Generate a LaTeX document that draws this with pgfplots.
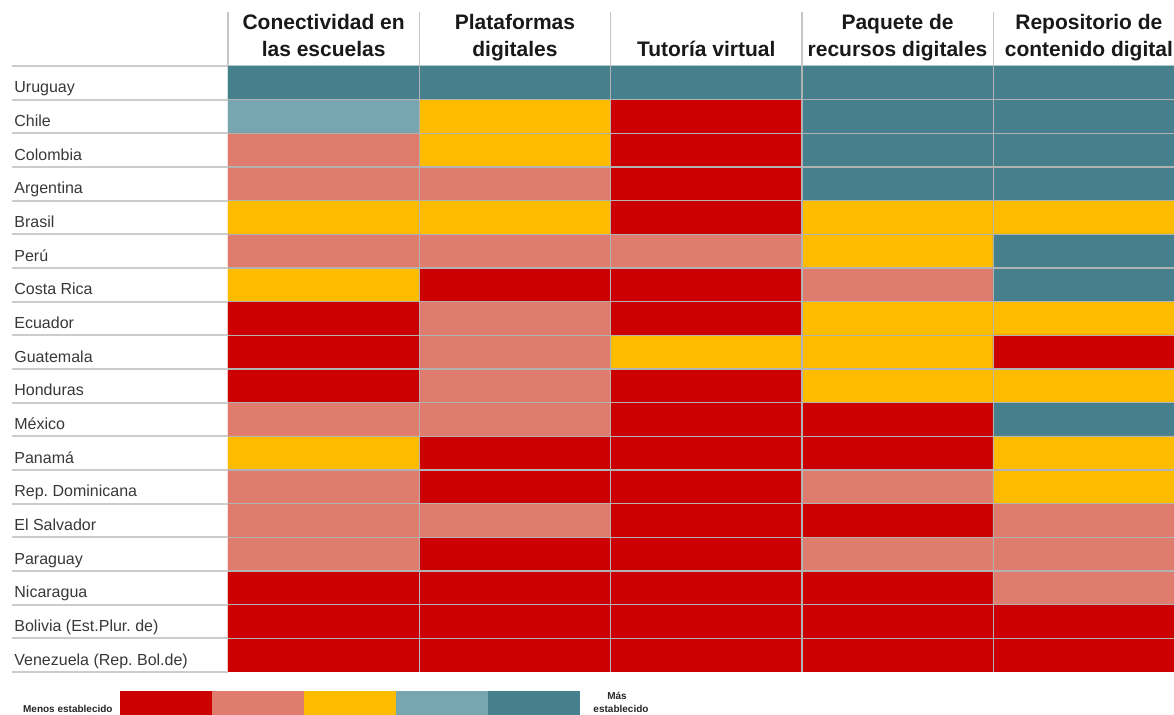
\documentclass[border=0pt]{standalone}
\usepackage{fontspec}
\setmainfont{Liberation Sans}
\usepackage{pgfplots}
\pgfplotsset{compat=1.18}
\usepackage{pgfplotstable}
\frenchspacing

% level 0 = menos establecido ... 4 = mas establecido
\pgfplotstableread{
x y v
0 0 4
1 0 4
2 0 4
3 0 4
4 0 4
0 1 3
1 1 2
2 1 0
3 1 4
4 1 4
0 2 1
1 2 2
2 2 0
3 2 4
4 2 4
0 3 1
1 3 1
2 3 0
3 3 4
4 3 4
0 4 2
1 4 2
2 4 0
3 4 2
4 4 2
0 5 1
1 5 1
2 5 1
3 5 2
4 5 4
0 6 2
1 6 0
2 6 0
3 6 1
4 6 4
0 7 0
1 7 1
2 7 0
3 7 2
4 7 2
0 8 0
1 8 1
2 8 2
3 8 2
4 8 0
0 9 0
1 9 1
2 9 0
3 9 2
4 9 2
0 10 1
1 10 1
2 10 0
3 10 0
4 10 4
0 11 2
1 11 0
2 11 0
3 11 0
4 11 2
0 12 1
1 12 0
2 12 0
3 12 1
4 12 2
0 13 1
1 13 1
2 13 0
3 13 0
4 13 1
0 14 1
1 14 0
2 14 0
3 14 1
4 14 1
0 15 0
1 15 0
2 15 0
3 15 0
4 15 1
0 16 0
1 16 0
2 16 0
3 16 0
4 16 0
0 17 0
1 17 0
2 17 0
3 17 0
4 17 0
}\heat

\pgfplotstableread{
x y v
0 0 0
1 0 1
2 0 2
3 0 3
4 0 4
0 1 0
1 1 1
2 1 2
3 1 3
4 1 4
}\scale

\pgfplotsset{
  levels/.style={
    colormap={niveles}{rgb255=(204,0,0) rgb255=(223,124,109) rgb255=(254,188,0)
      rgb255=(119,166,176) rgb255=(70,128,140)},
    colormap access=direct,
  },
}

\def\cw{95.65pt}

\begin{document}
\begin{tikzpicture}
\path[use as bounding box] (-114pt,-21.5pt) rectangle (473pt,336pt);

\begin{axis}[
  at={(0pt,0pt)}, anchor=south west,
  scale only axis, width=478.25pt, height=303pt,
  xmin=-0.5, xmax=4.5, ymin=-0.5, ymax=17.5,
  y dir=reverse,
  xtick={0.5,1.5,2.5,3.5}, ytick={0.5,1.5,...,16.5},
  xticklabels={}, yticklabels={},
  grid=major, grid style={gray!60, line width=0.7pt},
  major tick length=0pt,
  axis line style={draw=none},
  axis on top,
  levels,
]
\addplot[matrix plot*, shader=flat corner, mesh/cols=5, point meta=explicit]
  table[meta=v] {\heat};
\end{axis}

% row label separators
\foreach \k in {0,...,18}
  \draw[gray!40, line width=0.9pt] (-108pt,{\k*16.8333pt}) -- (0pt,{\k*16.8333pt});

% row labels
\foreach \name [count=\i from 0] in {Uruguay, Chile, Colombia, Argentina, Brasil,
  Perú, Costa Rica, Ecuador, Guatemala, Honduras, México, Panamá,
  Rep. Dominicana, El Salvador, Paraguay, Nicaragua,
  {Bolivia (Est.Plur. de)}, {Venezuela (Rep. Bol.de)}}
  \node[anchor=base west, inner sep=0pt, text=black!78,
        font=\fontsize{8}{9.6}\selectfont]
    at (-107pt,{303pt-(\i+1)*16.8333pt+3.4pt}) {\name};

% header separators
\foreach \k in {0,...,4}
  \draw[gray!45, line width=0.6pt] ({\k*\cw},303pt) -- ({\k*\cw},330pt);

% column headers
\tikzset{hd/.style={anchor=base, inner sep=0pt, text=black!90,
  font=\fontsize{10.5}{12}\selectfont\bfseries}}
\node[hd] at ({0.5*\cw},321pt) {Conectividad en};
\node[hd] at ({0.5*\cw},307.5pt) {las escuelas};
\node[hd] at ({1.5*\cw},321pt) {Plataformas};
\node[hd] at ({1.5*\cw},307.5pt) {digitales};
\node[hd] at ({2.5*\cw},307.5pt) {Tutoría virtual};
\node[hd] at ({3.5*\cw},321pt) {Paquete de};
\node[hd] at ({3.5*\cw},307.5pt) {recursos digitales};
\node[hd] at ({4.5*\cw},321pt) {Repositorio de};
\node[hd] at ({4.5*\cw},307.5pt) {contenido digital};

% legend scale
\begin{axis}[
  at={(-54pt,-21.5pt)}, anchor=south west,
  scale only axis, width=230pt, height=12pt,
  xmin=-0.5, xmax=4.5, ymin=-0.5, ymax=1.5,
  hide axis,
  levels,
]
\addplot[matrix plot*, shader=flat corner, mesh/cols=5, point meta=explicit]
  table[meta=v] {\scale};
\end{axis}

\tikzset{lg/.style={inner sep=0pt, text=black!85,
  font=\fontsize{5}{6}\selectfont\bfseries}}
\node[lg, anchor=base east] at (-57.5pt,-20.5pt) {Menos establecido};
\node[lg, anchor=base] at (194.5pt,-14pt) {Más};
\node[lg, anchor=base] at (196.5pt,-20.5pt) {establecido};
\end{tikzpicture}
\end{document}
